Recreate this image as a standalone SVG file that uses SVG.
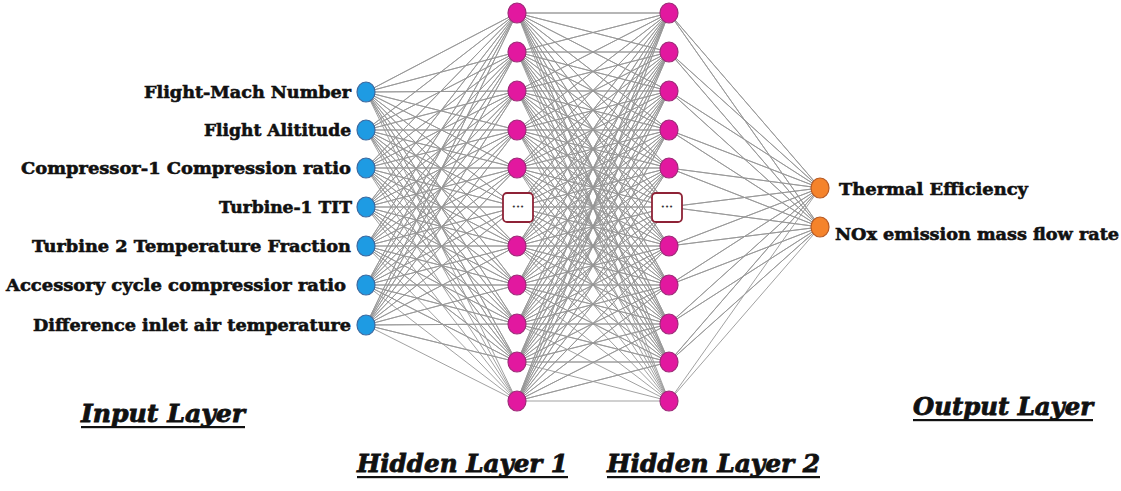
<svg xmlns="http://www.w3.org/2000/svg" width="1121" height="491" viewBox="0 0 1121 491">
<style>
.c{fill:none;stroke:#969696;stroke-width:0.9}
.in{fill:#1e9be3;stroke:#3c6aa0;stroke-width:1.2}
.hd{fill:#e2189f;stroke:#9e2a78;stroke-width:1.2}
.out{fill:#f5832b;stroke:#b75a24;stroke-width:1.2}
.box{fill:#fff;stroke:#8e2236;stroke-width:1.8}
.lbl{font-family:"DejaVu Serif","Liberation Serif",serif;font-weight:bold;font-size:17.5px;fill:#111;stroke:#111;stroke-width:0.6}
.ttl{font-family:"DejaVu Serif","Liberation Serif",serif;font-weight:bold;font-style:italic;font-size:23.5px;fill:#111;stroke:#111;stroke-width:0.8}
.dots{font-family:"DejaVu Sans",sans-serif;font-size:7px;fill:#333}
.ul{fill:#111}
</style>
<rect width="1121" height="491" fill="#fff"/>
<g id="connectors" class="c">
<path d="M366 92L517 13 366 92 517 52 366 92 517 91 366 92 517 130 366 92 517 168 366 92 517 207 366 92 517 246 366 92 517 285 366 92 517 324 366 92 517 362 366 92 517 401"/>
<path d="M366 130L517 13 366 130 517 52 366 130 517 91 366 130 517 130 366 130 517 168 366 130 517 207 366 130 517 246 366 130 517 285 366 130 517 324 366 130 517 362 366 130 517 401"/>
<path d="M366 168L517 13 366 168 517 52 366 168 517 91 366 168 517 130 366 168 517 168 366 168 517 207 366 168 517 246 366 168 517 285 366 168 517 324 366 168 517 362 366 168 517 401"/>
<path d="M366 207L517 13 366 207 517 52 366 207 517 91 366 207 517 130 366 207 517 168 366 207 517 207 366 207 517 246 366 207 517 285 366 207 517 324 366 207 517 362 366 207 517 401"/>
<path d="M366 246L517 13 366 246 517 52 366 246 517 91 366 246 517 130 366 246 517 168 366 246 517 207 366 246 517 246 366 246 517 285 366 246 517 324 366 246 517 362 366 246 517 401"/>
<path d="M366 285L517 13 366 285 517 52 366 285 517 91 366 285 517 130 366 285 517 168 366 285 517 207 366 285 517 246 366 285 517 285 366 285 517 324 366 285 517 362 366 285 517 401"/>
<path d="M366 325L517 13 366 325 517 52 366 325 517 91 366 325 517 130 366 325 517 168 366 325 517 207 366 325 517 246 366 325 517 285 366 325 517 324 366 325 517 362 366 325 517 401"/>
<path d="M517 13L669 13 517 13 669 52 517 13 669 91 517 13 669 130 517 13 669 168 517 13 669 207 517 13 669 246 517 13 669 285 517 13 669 324 517 13 669 362 517 13 669 401"/>
<path d="M517 52L669 13 517 52 669 52 517 52 669 91 517 52 669 130 517 52 669 168 517 52 669 207 517 52 669 246 517 52 669 285 517 52 669 324 517 52 669 362 517 52 669 401"/>
<path d="M517 91L669 13 517 91 669 52 517 91 669 91 517 91 669 130 517 91 669 168 517 91 669 207 517 91 669 246 517 91 669 285 517 91 669 324 517 91 669 362 517 91 669 401"/>
<path d="M517 130L669 13 517 130 669 52 517 130 669 91 517 130 669 130 517 130 669 168 517 130 669 207 517 130 669 246 517 130 669 285 517 130 669 324 517 130 669 362 517 130 669 401"/>
<path d="M517 168L669 13 517 168 669 52 517 168 669 91 517 168 669 130 517 168 669 168 517 168 669 207 517 168 669 246 517 168 669 285 517 168 669 324 517 168 669 362 517 168 669 401"/>
<path d="M517 207L669 13 517 207 669 52 517 207 669 91 517 207 669 130 517 207 669 168 517 207 669 207 517 207 669 246 517 207 669 285 517 207 669 324 517 207 669 362 517 207 669 401"/>
<path d="M517 246L669 13 517 246 669 52 517 246 669 91 517 246 669 130 517 246 669 168 517 246 669 207 517 246 669 246 517 246 669 285 517 246 669 324 517 246 669 362 517 246 669 401"/>
<path d="M517 285L669 13 517 285 669 52 517 285 669 91 517 285 669 130 517 285 669 168 517 285 669 207 517 285 669 246 517 285 669 285 517 285 669 324 517 285 669 362 517 285 669 401"/>
<path d="M517 324L669 13 517 324 669 52 517 324 669 91 517 324 669 130 517 324 669 168 517 324 669 207 517 324 669 246 517 324 669 285 517 324 669 324 517 324 669 362 517 324 669 401"/>
<path d="M517 362L669 13 517 362 669 52 517 362 669 91 517 362 669 130 517 362 669 168 517 362 669 207 517 362 669 246 517 362 669 285 517 362 669 324 517 362 669 362 517 362 669 401"/>
<path d="M517 401L669 13 517 401 669 52 517 401 669 91 517 401 669 130 517 401 669 168 517 401 669 207 517 401 669 246 517 401 669 285 517 401 669 324 517 401 669 362 517 401 669 401"/>
<path d="M820 188L669 13 820 188 669 52 820 188 669 91 820 188 669 130 820 188 669 168 820 188 669 207 820 188 669 246 820 188 669 285 820 188 669 324 820 188 669 362 820 188 669 401"/>
<path d="M820 227L669 13 820 227 669 52 820 227 669 91 820 227 669 130 820 227 669 168 820 227 669 207 820 227 669 246 820 227 669 285 820 227 669 324 820 227 669 362 820 227 669 401"/>
</g>
<g id="input-1"><ellipse class="in" cx="366" cy="92" rx="9" ry="10"/><text class="lbl" x="351" y="98" text-anchor="end" textLength="207" lengthAdjust="spacingAndGlyphs">Flight-Mach Number</text></g>
<g id="input-2"><ellipse class="in" cx="366" cy="130" rx="9" ry="10"/><text class="lbl" x="351" y="136" text-anchor="end" textLength="147" lengthAdjust="spacingAndGlyphs">Flight Alititude</text></g>
<g id="input-3"><ellipse class="in" cx="366" cy="168" rx="9" ry="10"/><text class="lbl" x="351" y="174" text-anchor="end" textLength="330" lengthAdjust="spacingAndGlyphs">Compressor-1 Compression ratio</text></g>
<g id="input-4"><ellipse class="in" cx="366" cy="207" rx="9" ry="10"/><text class="lbl" x="352" y="213" text-anchor="end" textLength="133" lengthAdjust="spacingAndGlyphs">Turbine-1 TIT</text></g>
<g id="input-5"><ellipse class="in" cx="366" cy="246" rx="9" ry="10"/><text class="lbl" x="351" y="252" text-anchor="end" textLength="319" lengthAdjust="spacingAndGlyphs">Turbine 2 Temperature Fraction</text></g>
<g id="input-6"><ellipse class="in" cx="366" cy="285" rx="9" ry="10"/><text class="lbl" x="346" y="291" text-anchor="end" textLength="340" lengthAdjust="spacingAndGlyphs">Accessory cycle compressior ratio</text></g>
<g id="input-7"><ellipse class="in" cx="366" cy="325" rx="9" ry="10"/><text class="lbl" x="351" y="331" text-anchor="end" textLength="318" lengthAdjust="spacingAndGlyphs">Difference inlet air temperature</text></g>
<g id="hidden1">
<ellipse class="hd" cx="517" cy="13" rx="9" ry="10"/>
<ellipse class="hd" cx="517" cy="52" rx="9" ry="10"/>
<ellipse class="hd" cx="517" cy="91" rx="9" ry="10"/>
<ellipse class="hd" cx="517" cy="130" rx="9" ry="10"/>
<ellipse class="hd" cx="517" cy="168" rx="9" ry="10"/>
<rect class="box" x="503" y="193" width="30" height="29" rx="4"/><text class="dots" x="518" y="209" text-anchor="middle">•••</text>
<ellipse class="hd" cx="517" cy="246" rx="9" ry="10"/>
<ellipse class="hd" cx="517" cy="285" rx="9" ry="10"/>
<ellipse class="hd" cx="517" cy="324" rx="9" ry="10"/>
<ellipse class="hd" cx="517" cy="362" rx="9" ry="10"/>
<ellipse class="hd" cx="517" cy="401" rx="9" ry="10"/>
</g>
<g id="hidden2">
<ellipse class="hd" cx="669" cy="13" rx="9" ry="10"/>
<ellipse class="hd" cx="669" cy="52" rx="9" ry="10"/>
<ellipse class="hd" cx="669" cy="91" rx="9" ry="10"/>
<ellipse class="hd" cx="669" cy="130" rx="9" ry="10"/>
<ellipse class="hd" cx="669" cy="168" rx="9" ry="10"/>
<rect class="box" x="652" y="193" width="30" height="29" rx="4"/><text class="dots" x="667" y="209" text-anchor="middle">•••</text>
<ellipse class="hd" cx="669" cy="246" rx="9" ry="10"/>
<ellipse class="hd" cx="669" cy="285" rx="9" ry="10"/>
<ellipse class="hd" cx="669" cy="324" rx="9" ry="10"/>
<ellipse class="hd" cx="669" cy="362" rx="9" ry="10"/>
<ellipse class="hd" cx="669" cy="401" rx="9" ry="10"/>
</g>
<g id="output-1"><ellipse class="out" cx="820" cy="188" rx="9" ry="10"/><text class="lbl" x="839" y="195" textLength="189" lengthAdjust="spacingAndGlyphs">Thermal Efficiency</text></g>
<g id="output-2"><ellipse class="out" cx="820" cy="227" rx="9" ry="10"/><text class="lbl" x="835" y="240" textLength="284" lengthAdjust="spacingAndGlyphs">NOx emission mass flow rate</text></g>
<g id="titles">
<text class="ttl" x="81" y="422" textLength="164" lengthAdjust="spacingAndGlyphs">Input Layer</text><rect class="ul" x="81" y="426" width="164" height="2.2"/>
<text class="ttl" x="357" y="472" textLength="211" lengthAdjust="spacingAndGlyphs">Hidden Layer 1</text><rect class="ul" x="357" y="476" width="211" height="2.2"/>
<text class="ttl" x="607" y="472" textLength="213" lengthAdjust="spacingAndGlyphs">Hidden Layer 2</text><rect class="ul" x="607" y="476" width="213" height="2.2"/>
<text class="ttl" x="913" y="415" textLength="180" lengthAdjust="spacingAndGlyphs">Output Layer</text><rect class="ul" x="913" y="419" width="180" height="2.2"/>
</g>
</svg>
